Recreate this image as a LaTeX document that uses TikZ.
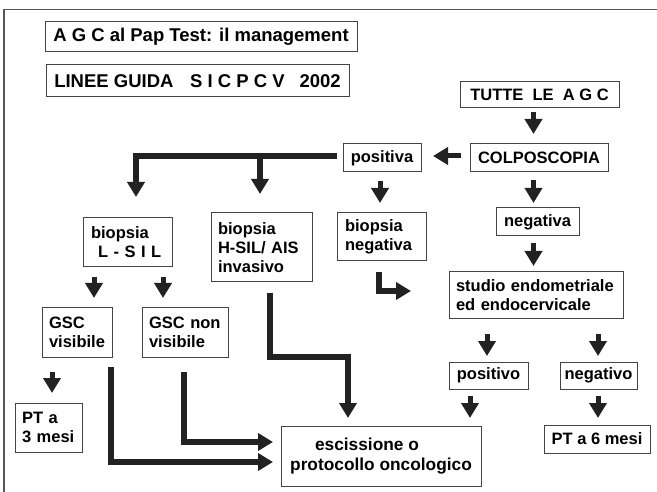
\documentclass[tikz,border=0pt]{standalone}
\usepackage{fontspec}
\setmainfont{Liberation Sans}
\usetikzlibrary{arrows.meta}
\definecolor{boxgray}{HTML}{444444}
\definecolor{arrowblack}{HTML}{222222}
\definecolor{framegray}{HTML}{555555}
\newcommand{\nfont}{\fontsize{16.5}{19}\selectfont\bfseries}
\newcommand{\tfont}{\fontsize{18.5}{22}\selectfont\bfseries}
\newcommand{\efont}{\fontsize{17.3}{19.5}\selectfont\bfseries}
\tikzset{
  box/.style={draw=boxgray, line width=1pt, inner sep=0pt, font=\nfont, align=center},
  lbox/.style={box, align=left},
  blk/.style={draw=arrowblack, line width=5pt, -{Triangle[width=17pt,length=15pt]}},
  fat/.style={draw=arrowblack, line width=5.2pt, line join=miter, -{Triangle[width=17pt,length=15pt]}}
}
\begin{document}
\begin{tikzpicture}[x=1pt,y=-1pt]
\useasboundingbox (0,0) rectangle (657,492);
% frame
\draw[framegray, line width=1.6pt] (4,500) -- (4,9.5) -- (670,9.5);
% nodes
\node[box, font=\tfont, minimum width=312, minimum height=30] (title) at (201,37) {A G C al Pap Test: il management};
\node[box, font=\tfont, minimum width=303, minimum height=32] (guide) at (197.5,81) {LINEE GUIDA\hspace{0.9em}S I C P C V\hspace{0.8em}2002};
\node[box, minimum width=159, minimum height=26] (tutte) at (539.5,95) {TUTTE\ \ LE\ \ A G C};
\node[box, minimum width=138, minimum height=28] (colpo) at (539,158) {COLPOSCOPIA};
\node[box, minimum width=78, minimum height=28] (posa) at (382,158) {positiva};
\node[lbox, minimum width=89, minimum height=48, text width=73] (bneg) at (381.5,237) {biopsia\\negativa};
\node[box, minimum width=83, minimum height=28] (nega) at (537.5,222) {negativa};
\node[lbox, minimum width=174, minimum height=47, text width=160] (studio) at (536,295.5) {studio endometriale\\ed endocervicale};
\node[box, minimum width=79, minimum height=27] (poso) at (488.5,375.5) {positivo};
\node[box, minimum width=77, minimum height=27] (nego) at (598.5,375.5) {negativo};
\node[box, minimum width=106, minimum height=28] (pt6) at (597,439) {PT a 6 mesi};
\node[box, font=\efont, minimum width=200, minimum height=60] (esc) at (381,456) {escissione o\hspace*{28pt}\\protocollo oncologico};
\node[lbox, minimum width=89, minimum height=49, text width=73] (blsil) at (127.5,242.5) {biopsia\\\hspace*{7pt}L - S I L};
\node[lbox, minimum width=101, minimum height=69, text width=87] (bhsil) at (261.5,247.5) {biopsia\\H-SIL/ AIS\\invasivo};
\node[lbox, minimum width=70, minimum height=49, text width=56] (gscv) at (77,332.5) {GSC\\visibile};
\node[lbox, minimum width=86, minimum height=49, text width=72] (gscn) at (185,332.5) {GSC~non\\visibile};
\node[lbox, minimum width=67, minimum height=49, text width=53] (pt3) at (48.5,427.5) {PT a\\3 mesi};
% connector end points
\coordinate (a1s) at (533.5,112); \coordinate (a1e) at (533.5,134);
\coordinate (a2s) at (461,156); \coordinate (a2e) at (433,156);
\coordinate (l1s) at (337,156); \coordinate (l1e) at (136,197);
\coordinate (l1b) at (260,156); \coordinate (l1f) at (260,194);
\coordinate (a3s) at (380,181); \coordinate (a3e) at (380,203);
\coordinate (a4s) at (533.5,180); \coordinate (a4e) at (533.5,203);
\coordinate (a5s) at (533.5,243); \coordinate (a5e) at (533.5,266);
\coordinate (l2s) at (379,272); \coordinate (l2m) at (379,291); \coordinate (l2e) at (411,291);
\coordinate (a6s) at (487,334); \coordinate (a6e) at (487,356);
\coordinate (a7s) at (598,334); \coordinate (a7e) at (598,356);
\coordinate (a8s) at (470,396); \coordinate (a8e) at (470,418);
\coordinate (a9s) at (598,396); \coordinate (a9e) at (598,418);
\coordinate (l3s) at (270,293); \coordinate (l3m) at (348,357); \coordinate (l3e) at (348,418);
\coordinate (a10s) at (94,277); \coordinate (a10e) at (94,298);
\coordinate (a11s) at (163,277); \coordinate (a11e) at (163,298);
\coordinate (a12s) at (52,372); \coordinate (a12e) at (52,393);
\coordinate (l4s) at (111,367); \coordinate (l4e) at (273,462);
\coordinate (l5s) at (184,372); \coordinate (l5e) at (273,442);
% connectors
\draw[blk] (a1s) -- (a1e);
\draw[blk] (a2s) -- (a2e);
\draw[fat] (l1s) -| (l1e);
\draw[fat] (l1b) -- (l1f);
\draw[blk] (a3s) -- (a3e);
\draw[blk] (a4s) -- (a4e);
\draw[blk] (a5s) -- (a5e);
\draw[fat] (l2s) -- (l2m) -- (l2e);
\draw[blk] (a6s) -- (a6e);
\draw[blk] (a7s) -- (a7e);
\draw[blk] (a8s) -- (a8e);
\draw[blk] (a9s) -- (a9e);
\draw[fat] (l3s) |- (l3m) -- (l3e);
\draw[blk] (a10s) -- (a10e);
\draw[blk] (a11s) -- (a11e);
\draw[blk] (a12s) -- (a12e);
\draw[fat] (l4s) |- (l4e);
\draw[fat] (l5s) |- (l5e);
\end{tikzpicture}
\end{document}
